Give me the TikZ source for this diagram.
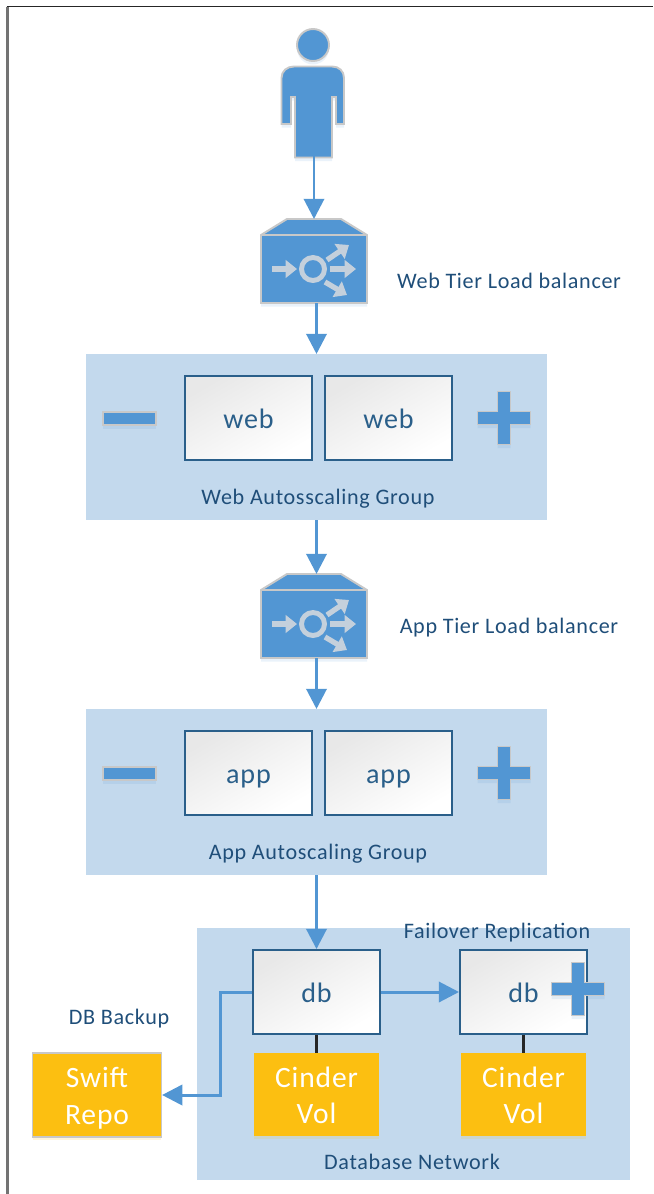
\documentclass[tikz,border=0pt]{standalone}
\usepackage{fontspec}
\setmainfont{Carlito}[LetterSpace=3]
\usetikzlibrary{%
    arrows.meta,
    positioning,
    calc,
    shadows
}
\definecolor{tierblue}{HTML}{5296D3}
\definecolor{panelblue}{HTML}{C3D9ED}
\definecolor{textblue}{HTML}{1F4E79}
\definecolor{edgegray}{HTML}{C8C8C8}
\definecolor{volyellow}{HTML}{FCBF11}
\definecolor{boxedge}{HTML}{2A5F8A}
\definecolor{glyphgray}{HTML}{C4D0DC}
\tikzset{
  vm/.style={draw=boxedge, line width=1.2pt, top color=black!9, bottom color=white, shading angle=30,
    text=boxedge, font=\fontsize{16}{18}\selectfont, inner sep=0pt, text height=12pt, text depth=0pt,
    minimum width=72.2pt, minimum height=47.7pt},
  vol/.style={fill=volyellow, text=white, align=center, font=\fontsize{16.8}{20.5}\selectfont, inner sep=0pt,
    text height=33pt, text depth=0pt, minimum width=71.1pt, minimum height=47.2pt,
    drop shadow={shadow xshift=0pt, shadow yshift=-1.5pt, fill=volyellow, opacity=.15}},
  lbl/.style={text=textblue, font=\fontsize{12.6}{14}\selectfont, inner sep=0pt},
  flow/.style={draw=tierblue, line width=1.7pt, -{Triangle[length=11.5pt,width=11.5pt]}},
  tie/.style={draw=black!85, line width=1.5pt},
  icon/.style={fill=tierblue, draw=edgegray, line width=1.1pt, line join=miter,
    drop shadow={shadow xshift=0pt, shadow yshift=-2pt, fill=tierblue, opacity=.12}},
  glyph/.style={draw=glyphgray, line width=3pt, -{Triangle[length=6.5pt,width=10pt]}},
}
% load balancer icon, origin at top centre of the lid
\newcommand{\lbicon}[1]{
  \begin{scope}[shift={(#1)}]
    \draw[icon] (-53,17) -- (-27,1) -- (27,1) -- (53,17) -- (53,85) -- (-53,85) -- cycle;
    \draw[draw=edgegray, line width=1.1pt] (-53,17) -- (53,17);
    \draw[glyphgray, line width=2.8pt] (-1,51) circle (11.5);
    \draw[glyph] (-42,51) -- (-17,51);
    \draw[glyph] (16,51) -- (42,51);
    \draw[glyph] (13,42) -- (35,27);
    \draw[glyph] (11,64) -- (33,77);
  \end{scope}
}
% plus and minus signs of the scaling groups
\newcommand{\plussign}[1]{
  \draw[icon] ($(#1)+(-26.5,-6.5)$) -- ($(#1)+(-6.5,-6.5)$) -- ($(#1)+(-6.5,-26.5)$) -- ($(#1)+(6.5,-26.5)$) -- ($(#1)+(6.5,-6.5)$) -- ($(#1)+(26.5,-6.5)$)
    -- ($(#1)+(26.5,6.5)$) -- ($(#1)+(6.5,6.5)$) -- ($(#1)+(6.5,26.5)$) -- ($(#1)+(-6.5,26.5)$) -- ($(#1)+(-6.5,6.5)$) -- ($(#1)+(-26.5,6.5)$) -- cycle;
}
\newcommand{\minussign}[1]{
  \draw[icon] ($(#1)+(-26.5,-6.5)$) rectangle ($(#1)+(26.5,6.5)$);
}
\begin{document}
\begin{tikzpicture}[x=.02cm, y=-.02cm]
  \useasboundingbox (0,0) rectangle (653,1194);
  \draw[black!55, line width=1.3pt] (7.5,1194) -- (7.5,6.5);
  \draw[black!85, line width=1.1pt] (6.5,6.5) -- (653,6.5);

  % panels
  \fill[panelblue] (86,354) rectangle (547,520);
  \fill[panelblue] (86,709) rectangle (547,875);
  \fill[panelblue] (197,928) rectangle (630,1180);

  % user
  \draw[icon] (313,45) circle (16);
  \draw[icon] (281.5,124) -- (281.5,78) .. controls (281.5,71) and (287,66.5) .. (294,66.5) -- (332,66.5) .. controls (339,66.5) and (344,71) .. (344,78)
    -- (344,124) -- (336,124) -- (336,97) -- (332,97) -- (332,157.5) -- (295,157.5) -- (295,97) -- (291,97) -- (291,124) -- cycle;

  % load balancers
  \lbicon{314,218}
  \lbicon{314,573}
  \coordinate (lb_web_top) at (314,219);
  \coordinate (lb_web_bot) at (316.5,303);
  \coordinate (lb_app_top) at (316.5,574);
  \coordinate (lb_app_bot) at (316.5,658);
  \coordinate (user) at (314,129);
  \coordinate (web_grp_top) at (316.5,354);
  \coordinate (web_grp_bot) at (316.5,520);
  \coordinate (app_grp_top) at (316.5,709);
  \coordinate (app_grp_bot) at (316.5,875);

  % boxes
  \node[vm] (web_1) at (248.5,418) {web};
  \node[vm] (web_2) at (388.5,418) {web};
  \node[vm] (app_1) at (248.5,773) {app};
  \node[vm] (app_2) at (388.5,773) {app};
  \node[vm] (db_1) at (316.5,992) {db};
  \node[vm] (db_2) at (523.5,992) {db};
  \node[vol] (vol_1) at (316.5,1094.5) {Cinder\\Vol};
  \node[vol] (vol_2) at (523.5,1094.5) {Cinder\\Vol};
  \node[vol, draw=edgegray, line width=.9pt, minimum width=73.2pt, minimum height=48.1pt] (swift) at (97,1095) {Swift\\Repo};

  % signs
  \coordinate (minus_web) at (129.5,418.5);
  \coordinate (plus_web) at (504,418);
  \coordinate (minus_app) at (129.5,773.5);
  \coordinate (plus_app) at (504,773);
  \coordinate (plus_db) at (578,989);
  \minussign{minus_web}
  \plussign{plus_web}
  \minussign{minus_app}
  \plussign{plus_app}
  \plussign{plus_db}

  % labels
  \node[lbl] (lbl_lb_web) at (509,281) {Web Tier Load balancer};
  \node[lbl] (lbl_lb_app) at (509,627.5) {App Tier Load balancer};
  \node[lbl] (lbl_web) at (318,498.5) {Web Autosscaling Group};
  \node[lbl] (lbl_app) at (318,853.5) {App Autoscaling Group};
  \node[lbl] (lbl_fail) at (497,932.5) {Failover Replication};
  \node[lbl] (lbl_backup) at (119,1018.5) {DB Backup};
  \node[lbl] (lbl_dbnet) at (412,1161.5) {Database Network};

  % connectors
  \draw[flow] (user) -- (lb_web_top);
  \draw[flow] (lb_web_bot) -- (web_grp_top);
  \draw[flow] (web_grp_bot) -- (lb_app_top);
  \draw[flow] (lb_app_bot) -- (app_grp_top);
  \draw[flow] (app_grp_bot) -- (db_1.north);
  \draw[flow] (db_1.east) -- (db_2.west);
  \draw[flow] (db_1.west) -- ++(-32,0) |- (swift.east);
  \draw[tie] (db_1.south) -- (vol_1.north);
  \draw[tie] (db_2.south) -- (vol_2.north);
\end{tikzpicture}
\end{document}
